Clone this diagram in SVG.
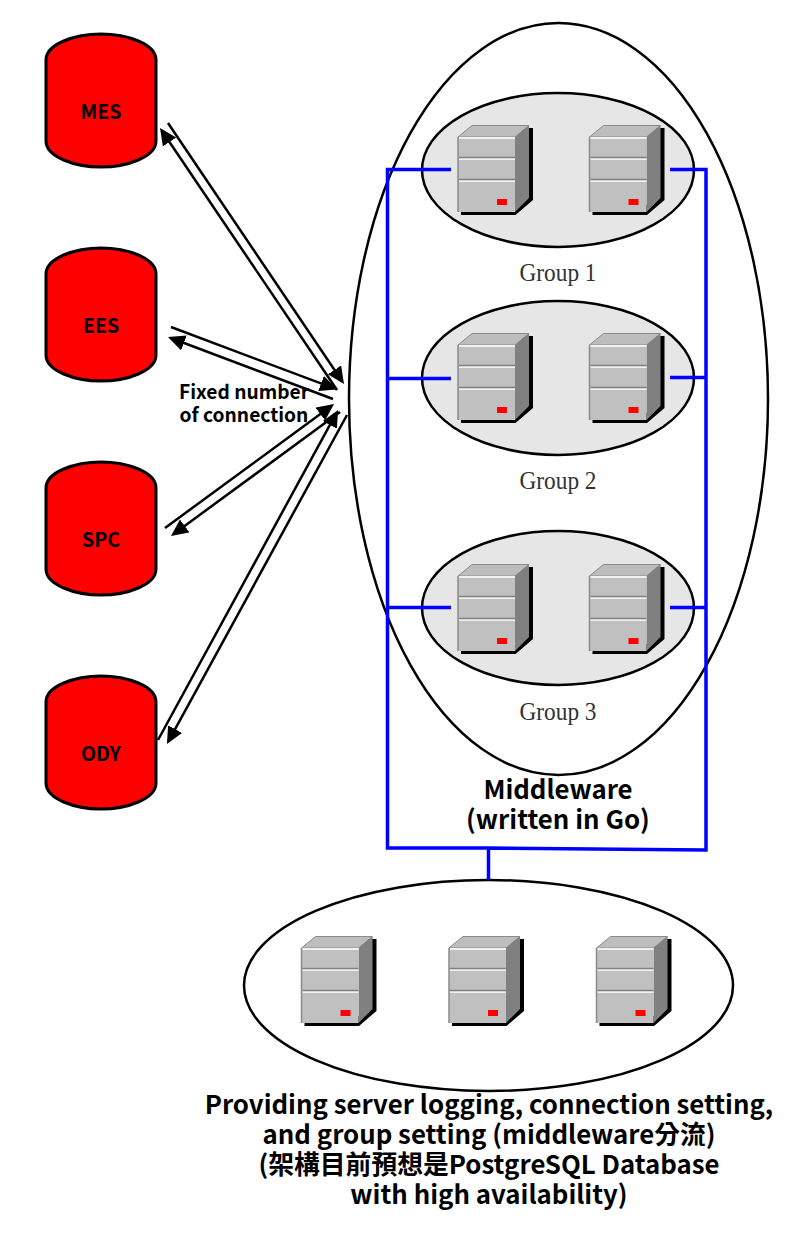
<svg xmlns="http://www.w3.org/2000/svg" width="795" height="1255" viewBox="0 0 795 1255">
<style>
.ell{stroke:#000;stroke-width:2.500}
.cyl{fill:#f00;stroke:#000;stroke-width:3}
.lbl{font-family:"Noto Sans CJK TC","Noto Sans CJK SC",sans-serif;font-weight:700;fill:#000;text-anchor:middle}
.grp{font-family:"Liberation Serif",serif;font-size:26px;fill:#333;text-anchor:middle}
.arr{stroke:#000;stroke-width:2.500;fill:none;marker-end:url(#head)}
.bl{stroke:#00f;stroke-width:3.500;fill:none}
</style>
<defs>
<marker id="head" markerUnits="userSpaceOnUse" markerWidth="20" markerHeight="18" refX="14" refY="8" orient="auto"><path d="M0 0L17 8L0 16Z" fill="#000"/></marker>
<g id="srv">
<path d="M461 215H515.500L533 200V128H522V205H461Z" fill="#000"/>
<path d="M458 137L472 125.500H529L515 137Z" fill="#bdbdbd" stroke="#8a8a8a" stroke-width="1"/>
<path d="M515 137L529 125.500V198L515 212Z" fill="#808080"/>
<rect x="458" y="137" width="57" height="75" fill="#c0c0c0"/>
<path d="M458 137V212" stroke="#8a8a8a" stroke-width="1.500"/>
<path d="M459 138H515M459 159H515M459 181H515" stroke="#fff" stroke-width="1.500"/>
<path d="M459 157.500H515M459 179.500H515" stroke="#808080" stroke-width="1.500"/>
<rect x="497" y="199" width="10" height="6" fill="#f00"/>
</g>
</defs>
<rect width="795" height="1255" fill="#fff"/>
<g id="middleware"><ellipse cx="558.500" cy="399" rx="209.500" ry="376" fill="#fff" class="ell"/>
<text class="lbl" font-size="25.800" x="558" y="799">Middleware<tspan x="558" dy="30">(written in Go)</tspan></text></g>
<g id="group1"><ellipse cx="558" cy="170" rx="136" ry="77" fill="#e6e6e6" class="ell"/>
<use href="#srv"/><use href="#srv" x="131.500"/>
<text class="grp" x="558" y="281" textLength="77" lengthAdjust="spacingAndGlyphs">Group 1</text></g>
<g id="group2"><ellipse cx="558" cy="378" rx="136" ry="77" fill="#e6e6e6" class="ell"/>
<use href="#srv" y="208"/><use href="#srv" x="131.500" y="208"/>
<text class="grp" x="558" y="489" textLength="77" lengthAdjust="spacingAndGlyphs">Group 2</text></g>
<g id="group3"><ellipse cx="558" cy="608" rx="136" ry="77" fill="#e6e6e6" class="ell"/>
<use href="#srv" y="439"/><use href="#srv" x="131.500" y="439"/>
<text class="grp" x="558" y="720" textLength="77" lengthAdjust="spacingAndGlyphs">Group 3</text></g>
<g id="database"><ellipse cx="488.500" cy="985.500" rx="244.500" ry="105.500" fill="#fff" class="ell"/>
<use href="#srv" x="-156.500" y="811"/><use href="#srv" x="-9" y="811"/><use href="#srv" x="138.500" y="811"/>
<text class="lbl" font-size="25.800" x="489" y="1114">Providing server logging, connection setting,<tspan x="489" dy="30">and group setting (middleware分流)</tspan><tspan x="489" dy="30">(架構目前預想是PostgreSQL Database</tspan><tspan x="489" dy="30">with high availability)</tspan></text></g>
<g id="mes"><path class="cyl" d="M46 60C46 44 75 34 101 34C127 34 156 44 156 60V141C156 157 127 167 101 167C75 167 46 157 46 141Z"/><text class="lbl" font-size="19.500" x="101" y="119">MES</text></g>
<g id="ees"><path class="cyl" d="M46 274C46 258 75 248 101 248C127 248 156 258 156 274V355C156 371 127 381 101 381C75 381 46 371 46 355Z"/><text class="lbl" font-size="19.500" x="101" y="333">EES</text></g>
<g id="spc"><path class="cyl" d="M46 488C46 472 75 462 101 462C127 462 156 472 156 488V569C156 585 127 595 101 595C75 595 46 585 46 569Z"/><text class="lbl" font-size="19.500" x="101" y="547">SPC</text></g>
<g id="ody"><path class="cyl" d="M46 702C46 686 75 676 101 676C127 676 156 686 156 702V783C156 799 127 809 101 809C75 809 46 799 46 783Z"/><text class="lbl" font-size="19.500" x="101" y="761">ODY</text></g>
<g id="note"><text class="lbl" font-size="19.200" x="244" y="399">Fixed number<tspan x="244" dy="23">of connection</tspan></text></g>
<g id="connectors">
<path class="arr" d="M168 123L342.300 381.500"/>
<path class="arr" d="M337 390L161.700 130.500"/>
<path class="arr" d="M171 327L334.200 388.400"/>
<path class="arr" d="M333 399L170.800 338"/>
<path class="arr" d="M165 528L331.600 405.800"/>
<path class="arr" d="M340 412L173.400 534.200"/>
<path class="arr" d="M158 740L336.600 412.600"/>
<path class="arr" d="M347 415L168.400 741.400"/>
<path class="bl" d="M451 169.500H387.500V848H488.500M670 169.500H706V850L488.500 848M451 378.500H388M451 607.500H388M670 377.500H706M670 607.500H706M488.500 848V880"/>
</g>
</svg>
